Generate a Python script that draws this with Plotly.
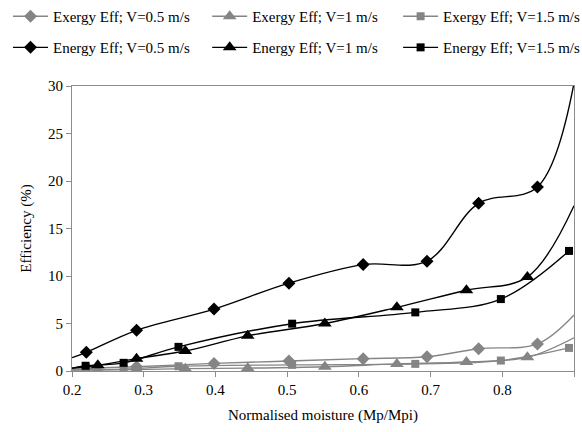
import plotly.graph_objects as go

# Energy efficiency, V=0.5 m/s
en05_x = [0.22, 0.29, 0.398, 0.5025, 0.606, 0.695, 0.767, 0.849]
en05_y = [1.97, 4.28, 6.52, 9.25, 11.2, 11.56, 17.65, 19.36]
en05_line_x = [0.2] + en05_x + [0.9]
en05_line_y = [1.4] + en05_y + [30.3]

# Energy efficiency, V=1 m/s
en1_x = [0.236, 0.29, 0.358, 0.445, 0.5526, 0.653, 0.75, 0.835]
en1_y = [0.6, 1.3, 2.1, 3.7, 5.0, 6.7, 8.5, 9.9]
en1_line_x = [0.2] + en1_x + [0.9]
en1_line_y = [0.3] + en1_y + [17.4]

# Energy efficiency, V=1.5 m/s
en15_x = [0.219, 0.272, 0.3485, 0.507, 0.6787, 0.798, 0.893]
en15_y = [0.55, 0.86, 2.54, 4.98, 6.17, 7.57, 12.64]
en15_line_x = [0.2] + en15_x
en15_line_y = [0.3] + en15_y

# Exergy efficiency, V=0.5 m/s
ex05_x = [0.22, 0.29, 0.398, 0.5025, 0.606, 0.695, 0.767, 0.849]
ex05_y = [0.3, 0.45, 0.8, 1.05, 1.3, 1.5, 2.35, 2.85]
ex05_line_x = [0.2] + ex05_x + [0.9]
ex05_line_y = [0.25] + ex05_y + [5.9]

# Exergy efficiency, V=1 m/s
ex1_x = [0.236, 0.29, 0.358, 0.445, 0.5526, 0.653, 0.75, 0.835]
ex1_y = [0.1, 0.15, 0.25, 0.3, 0.45, 0.75, 0.95, 1.45]
ex1_line_x = [0.2] + ex1_x + [0.9]
ex1_line_y = [0.1] + ex1_y + [3.5]

# Exergy efficiency, V=1.5 m/s
ex15_x = [0.219, 0.272, 0.3485, 0.507, 0.6787, 0.798, 0.893]
ex15_y = [0.15, 0.2, 0.5, 0.65, 0.75, 1.1, 2.43]
ex15_line_x = [0.2] + ex15_x
ex15_line_y = [0.1] + ex15_y

x_ticks = [0.2, 0.3, 0.4, 0.5, 0.6, 0.7, 0.8, 0.9]
y_ticks = [0, 5, 10, 15, 20, 25, 30]

GRAY = "#858585"
BLACK = "#000000"
FONT = "Liberation Serif"

series = [
    ("Exergy Eff; V=0.5 m/s", ex05_line_x, ex05_line_y, ex05_x, ex05_y, GRAY, "diamond", 10),
    ("Exergy Eff; V=1 m/s", ex1_line_x, ex1_line_y, ex1_x, ex1_y, GRAY, "triangle-up", 12),
    ("Exergy Eff; V=1.5 m/s", ex15_line_x, ex15_line_y, ex15_x, ex15_y, GRAY, "square", 8),
    ("Energy Eff; V=0.5 m/s", en05_line_x, en05_line_y, en05_x, en05_y, BLACK, "diamond", 10),
    ("Energy Eff; V=1 m/s", en1_line_x, en1_line_y, en1_x, en1_y, BLACK, "triangle-up", 12),
    ("Energy Eff; V=1.5 m/s", en15_line_x, en15_line_y, en15_x, en15_y, BLACK, "square", 8),
]
legend_ids = ["legend", "legend2", "legend3", "legend4", "legend5", "legend6"]

fig = go.Figure()
for (name, lx, ly, mx, my, color, sym, size), leg in zip(series, legend_ids):
    fig.add_trace(go.Scatter(
        x=lx, y=ly, mode="lines", line=dict(color=color, width=1.4, shape="spline", smoothing=1.0),
        showlegend=False, hoverinfo="skip"))
    fig.add_trace(go.Scatter(
        x=mx, y=my, mode="markers", marker=dict(color=color, symbol=sym, size=size),
        showlegend=False))
    fig.add_trace(go.Scatter(
        x=[None], y=[None], mode="lines+markers", name=name, legend=leg,
        line=dict(color=color, width=1.4), marker=dict(color=color, symbol=sym, size=size)))

axis_common = dict(
    showgrid=False, zeroline=False, showline=True, linecolor="#8c8c8c", linewidth=1,
    mirror=True, ticks="outside", ticklen=5, tickcolor="#8c8c8c",
    tickfont=dict(family=FONT, size=15, color="black"),
)

leg_common = dict(orientation="h", xref="container", yref="container",
                  xanchor="left", yanchor="top",
                  font=dict(family=FONT, size=15), bgcolor="rgba(0,0,0,0)", itemwidth=35)

col_x = [0.0137, 0.356, 0.684]
row_y = [1.0, 0.928]
legend_layout = {}
for i, leg in enumerate(legend_ids):
    legend_layout[leg] = dict(x=col_x[i % 3], y=row_y[i // 3], **leg_common)

fig.update_layout(
    width=582, height=432,
    margin=dict(l=72, r=8, t=86, b=61, autoexpand=False),
    paper_bgcolor="white", plot_bgcolor="white",
    font=dict(family=FONT, size=15, color="black"),
    xaxis=dict(range=[0.2, 0.9], tickvals=x_ticks, ticktext=[str(v) for v in x_ticks],
               title=dict(text="Normalised moisture (Mp/Mpi)", font=dict(family=FONT, size=15), standoff=12),
               **axis_common),
    yaxis=dict(range=[0, 30], tickvals=y_ticks,
               title=dict(text="Efficiency (%)", font=dict(family=FONT, size=15), standoff=12),
               **axis_common),
    **legend_layout,
)

fig.write_html("out.html")
